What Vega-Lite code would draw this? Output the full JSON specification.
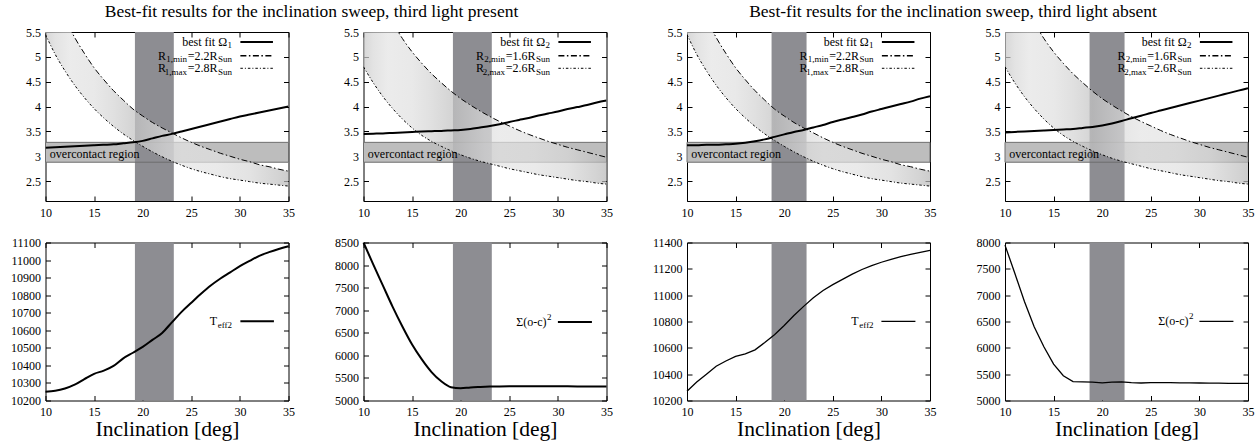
{
"$schema": "https://vega.github.io/schema/vega-lite/v6.json",
"background": "white",
"padding": {"left": 9.5, "top": 3, "right": 0, "bottom": 0},
"spacing": 37.5,
"config": {
  "font": "Liberation Serif",
  "view": {"stroke": "black", "strokeWidth": 1},
  "axis": {"domain": false, "grid": false, "tickSize": -5, "tickColor": "black", "tickWidth": 1, "labelFont": "Liberation Serif", "labelFontSize": 12, "labelColor": "black", "labelPadding": 10, "labelFlush": false, "labelOverlap": false, "titleFont": "Liberation Serif", "titleFontSize": 21.5, "titleFontWeight": "normal", "titleColor": "black", "titlePadding": 1},
  "axisX": {"labelPadding": 11},
  "title": {"font": "Liberation Serif", "fontSize": 17.5, "fontWeight": "normal", "color": "black", "offset": 5, "anchor": "middle"},
  "text": {"font": "Liberation Serif", "color": "black"},
  "area": {"color": {"gradient": "linear", "x1": 0, "y1": 0, "x2": 1, "y2": 0, "stops": [{"offset": 0, "color": "#c8c8c8"}, {"offset": 0.04, "color": "#d8d8d8"}, {"offset": 0.1, "color": "#e4e4e4"}, {"offset": 0.2, "color": "#e0e0e0"}, {"offset": 0.28, "color": "#d4d4d4"}, {"offset": 0.36, "color": "#c4c4c4"}, {"offset": 0.5, "color": "#dedede"}, {"offset": 0.56, "color": "#e4e4e4"}, {"offset": 0.7, "color": "#e2e2e2"}, {"offset": 0.84, "color": "#d8d8d8"}, {"offset": 0.96, "color": "#c2c2c2"}, {"offset": 1, "color": "#b8b8b8"}]}, "opacity": 0.72}
},
"datasets": {
  "oc": [{"lo": 2.88, "hi": 3.28, "label": "overcontact region"}],
  "bands": [{"p": "p1", "a": 19.2, "b": 23.2}, {"p": "p2", "a": 19.2, "b": 23.2}, {"p": "p3", "a": 18.7, "b": 22.3}, {"p": "p4", "a": 18.7, "b": 22.3}],
  "legline": [{"y": 5.3, "k": "om"}, {"y": 5.02, "k": "rmin"}, {"y": 4.77, "k": "rmax"}],
  "legA": [{"row": 1, "y": 5.3, "t": "best fit Ω", "s": "1"}, {"row": 2, "y": 5.02, "r": "R", "s1": "1,min", "t": "=2.2R", "s": "Sun"}, {"row": 3, "y": 4.77, "r": "R", "s1": "1,max", "t": "=2.8R", "s": "Sun"}],
  "legB": [{"row": 1, "y": 5.3, "t": "best fit Ω", "s": "2"}, {"row": 2, "y": 5.02, "r": "R", "s1": "2,min", "t": "=1.6R", "s": "Sun"}, {"row": 3, "y": 4.77, "r": "R", "s1": "2,max", "t": "=2.6R", "s": "Sun"}],
  "legbot": [{"p": "p1", "y": 10651, "t": "T", "s": "eff2"}, {"p": "p2", "y": 6739, "t": "Σ(o-c)", "s": "2"}, {"p": "p3", "y": 10801, "t": "T", "s": "eff2"}, {"p": "p4", "y": 6504, "t": "Σ(o-c)", "s": "2"}],
  "r1": [{"i":10,"rmin":6.76,"rmax":5.45},{"i":11,"rmin":6.22,"rmax":5.05},{"i":12,"rmin":5.77,"rmax":4.72},{"i":13,"rmin":5.39,"rmax":4.43},{"i":14,"rmin":5.07,"rmax":4.18},{"i":15,"rmin":4.78,"rmax":3.96},{"i":16,"rmin":4.54,"rmax":3.77},{"i":17,"rmin":4.32,"rmax":3.60},{"i":18,"rmin":4.13,"rmax":3.45},{"i":19,"rmin":3.95,"rmax":3.32},{"i":20,"rmin":3.81,"rmax":3.20},{"i":21,"rmin":3.68,"rmax":3.09},{"i":22,"rmin":3.57,"rmax":2.99},{"i":23,"rmin":3.47,"rmax":2.90},{"i":24,"rmin":3.37,"rmax":2.82},{"i":25,"rmin":3.28,"rmax":2.75},{"i":26,"rmin":3.20,"rmax":2.69},{"i":27,"rmin":3.13,"rmax":2.64},{"i":28,"rmin":3.06,"rmax":2.59},{"i":29,"rmin":3.00,"rmax":2.55},{"i":30,"rmin":2.94,"rmax":2.52},{"i":31,"rmin":2.89,"rmax":2.49},{"i":32,"rmin":2.83,"rmax":2.46},{"i":33,"rmin":2.79,"rmax":2.44},{"i":34,"rmin":2.74,"rmax":2.42},{"i":35,"rmin":2.70,"rmax":2.40}],
  "r2": [{"i":10,"rmin":7.0,"rmax":4.80},{"i":11,"rmin":6.48,"rmax":4.48},{"i":12,"rmin":6.05,"rmax":4.20},{"i":13,"rmin":5.69,"rmax":3.96},{"i":14,"rmin":5.37,"rmax":3.75},{"i":15,"rmin":5.10,"rmax":3.57},{"i":16,"rmin":4.87,"rmax":3.42},{"i":17,"rmin":4.66,"rmax":3.30},{"i":18,"rmin":4.48,"rmax":3.20},{"i":19,"rmin":4.31,"rmax":3.11},{"i":20,"rmin":4.16,"rmax":3.03},{"i":21,"rmin":4.03,"rmax":2.96},{"i":22,"rmin":3.91,"rmax":2.90},{"i":23,"rmin":3.80,"rmax":2.85},{"i":24,"rmin":3.70,"rmax":2.80},{"i":25,"rmin":3.61,"rmax":2.75},{"i":26,"rmin":3.52,"rmax":2.71},{"i":27,"rmin":3.44,"rmax":2.67},{"i":28,"rmin":3.37,"rmax":2.63},{"i":29,"rmin":3.30,"rmax":2.60},{"i":30,"rmin":3.24,"rmax":2.57},{"i":31,"rmin":3.18,"rmax":2.54},{"i":32,"rmin":3.13,"rmax":2.51},{"i":33,"rmin":3.08,"rmax":2.49},{"i":34,"rmin":3.03,"rmax":2.46},{"i":35,"rmin":2.98,"rmax":2.44}],
  "o1": [{"i":10,"om":3.17},{"i":11,"om":3.18},{"i":12,"om":3.19},{"i":13,"om":3.20},{"i":14,"om":3.21},{"i":15,"om":3.22},{"i":16,"om":3.23},{"i":17,"om":3.24},{"i":18,"om":3.26},{"i":19,"om":3.28},{"i":20,"om":3.31},{"i":21,"om":3.36},{"i":22,"om":3.41},{"i":23,"om":3.45},{"i":24,"om":3.50},{"i":25,"om":3.55},{"i":26,"om":3.60},{"i":27,"om":3.65},{"i":28,"om":3.70},{"i":29,"om":3.75},{"i":30,"om":3.80},{"i":31,"om":3.84},{"i":32,"om":3.88},{"i":33,"om":3.92},{"i":34,"om":3.96},{"i":35,"om":4.00}],
  "o2": [{"i":10,"om":3.45},{"i":11,"om":3.455},{"i":12,"om":3.46},{"i":13,"om":3.47},{"i":14,"om":3.48},{"i":15,"om":3.49},{"i":16,"om":3.50},{"i":17,"om":3.505},{"i":18,"om":3.51},{"i":19,"om":3.52},{"i":20,"om":3.53},{"i":21,"om":3.55},{"i":22,"om":3.58},{"i":23,"om":3.61},{"i":24,"om":3.645},{"i":25,"om":3.69},{"i":26,"om":3.73},{"i":27,"om":3.77},{"i":28,"om":3.82},{"i":29,"om":3.86},{"i":30,"om":3.90},{"i":31,"om":3.95},{"i":32,"om":3.99},{"i":33,"om":4.03},{"i":34,"om":4.08},{"i":35,"om":4.12}],
  "o3": [{"i":10,"om":3.22},{"i":11,"om":3.22},{"i":12,"om":3.23},{"i":13,"om":3.23},{"i":14,"om":3.24},{"i":15,"om":3.25},{"i":16,"om":3.27},{"i":17,"om":3.30},{"i":18,"om":3.34},{"i":19,"om":3.39},{"i":20,"om":3.44},{"i":21,"om":3.49},{"i":22,"om":3.53},{"i":23,"om":3.58},{"i":24,"om":3.63},{"i":25,"om":3.69},{"i":26,"om":3.74},{"i":27,"om":3.79},{"i":28,"om":3.84},{"i":29,"om":3.90},{"i":30,"om":3.95},{"i":31,"om":4.00},{"i":32,"om":4.05},{"i":33,"om":4.10},{"i":34,"om":4.16},{"i":35,"om":4.21}],
  "o4": [{"i":10,"om":3.48},{"i":11,"om":3.49},{"i":12,"om":3.50},{"i":13,"om":3.51},{"i":14,"om":3.52},{"i":15,"om":3.53},{"i":16,"om":3.54},{"i":17,"om":3.55},{"i":18,"om":3.57},{"i":19,"om":3.59},{"i":20,"om":3.62},{"i":21,"om":3.66},{"i":22,"om":3.71},{"i":23,"om":3.765},{"i":24,"om":3.815},{"i":25,"om":3.87},{"i":26,"om":3.92},{"i":27,"om":3.97},{"i":28,"om":4.02},{"i":29,"om":4.07},{"i":30,"om":4.12},{"i":31,"om":4.17},{"i":32,"om":4.22},{"i":33,"om":4.27},{"i":34,"om":4.32},{"i":35,"om":4.37}],
  "b1": [{"i":10,"v":10250},{"i":11,"v":10255},{"i":12,"v":10268},{"i":13,"v":10290},{"i":14,"v":10322},{"i":15,"v":10352},{"i":16,"v":10370},{"i":17,"v":10397},{"i":18,"v":10440},{"i":19,"v":10472},{"i":20,"v":10505},{"i":21,"v":10545},{"i":22,"v":10585},{"i":23,"v":10645},{"i":24,"v":10705},{"i":25,"v":10757},{"i":26,"v":10808},{"i":27,"v":10855},{"i":28,"v":10895},{"i":29,"v":10930},{"i":30,"v":10965},{"i":31,"v":10995},{"i":32,"v":11024},{"i":33,"v":11045},{"i":34,"v":11063},{"i":35,"v":11079}],
  "b2": [{"i":10,"v":8500},{"i":11,"v":8015},{"i":12,"v":7545},{"i":13,"v":7075},{"i":14,"v":6640},{"i":15,"v":6240},{"i":16,"v":5910},{"i":17,"v":5630},{"i":18,"v":5425},{"i":19,"v":5295},{"i":20,"v":5272},{"i":21,"v":5290},{"i":22,"v":5300},{"i":23,"v":5308},{"i":24,"v":5312},{"i":25,"v":5315},{"i":26,"v":5316},{"i":27,"v":5316},{"i":28,"v":5315},{"i":29,"v":5315},{"i":30,"v":5314},{"i":31,"v":5313},{"i":32,"v":5312},{"i":33,"v":5311},{"i":34,"v":5310},{"i":35,"v":5310}],
  "b3": [{"i":10,"v":10270},{"i":11,"v":10340},{"i":12,"v":10400},{"i":13,"v":10460},{"i":14,"v":10500},{"i":15,"v":10535},{"i":16,"v":10555},{"i":17,"v":10585},{"i":18,"v":10640},{"i":19,"v":10700},{"i":20,"v":10770},{"i":21,"v":10845},{"i":22,"v":10915},{"i":23,"v":10980},{"i":24,"v":11035},{"i":25,"v":11080},{"i":26,"v":11120},{"i":27,"v":11160},{"i":28,"v":11195},{"i":29,"v":11225},{"i":30,"v":11250},{"i":31,"v":11272},{"i":32,"v":11292},{"i":33,"v":11310},{"i":34,"v":11325},{"i":35,"v":11340}],
  "b4": [{"i":10,"v":7950},{"i":11,"v":7420},{"i":12,"v":6880},{"i":13,"v":6400},{"i":14,"v":6020},{"i":15,"v":5690},{"i":16,"v":5470},{"i":17,"v":5360},{"i":18,"v":5352},{"i":19,"v":5348},{"i":20,"v":5335},{"i":21,"v":5350},{"i":22,"v":5355},{"i":23,"v":5340},{"i":24,"v":5332},{"i":25,"v":5338},{"i":26,"v":5340},{"i":27,"v":5338},{"i":28,"v":5336},{"i":29,"v":5334},{"i":30,"v":5332},{"i":31,"v":5330},{"i":32,"v":5328},{"i":33,"v":5327},{"i":34,"v":5326},{"i":35,"v":5325}]
},
"hconcat": [
 {"title": "Best-fit results for the inclination sweep, third light present", "spacing": 38, "hconcat": [
  {"spacing": 16.5, "vconcat": [
   {"width": 243, "height": 169, "layer": [
    {"data": {"name": "oc"}, "mark": {"type": "rect", "color": "#bdbdbd"}, "encoding": {"y": {"field": "lo", "type": "quantitative", "scale": {"domain": [2.1, 5.5], "nice": false, "zero": false}, "axis": null}, "y2": {"field": "hi"}}},
    {"data": {"name": "bands"}, "transform": [{"filter": "datum.p == 'p1'"}], "mark": {"type": "rect", "color": "#8d8d92"}, "encoding": {"x": {"field": "a", "type": "quantitative", "scale": {"domain": [10, 35], "nice": false, "zero": false}, "axis": null}, "x2": {"field": "b"}}},
    {"data": {"name": "oc"}, "mark": {"type": "rect", "filled": false, "stroke": "#6e6e6e", "strokeWidth": 1}, "encoding": {"y": {"field": "lo", "type": "quantitative", "axis": null}, "y2": {"field": "hi"}}},
    {"data": {"name": "r1"}, "mark": {"type": "area", "interpolate": "monotone", "clip": true}, "encoding": {"x": {"field": "i", "type": "quantitative", "axis": null}, "y": {"field": "rmax", "type": "quantitative", "axis": null}, "y2": {"field": "rmin"}}},
    {"data": {"name": "oc"}, "mark": {"type": "text", "align": "left", "baseline": "middle", "fontSize": 12}, "encoding": {"x": {"datum": 10.45, "type": "quantitative", "axis": null}, "y": {"datum": 3.05, "type": "quantitative", "axis": null}, "text": {"field": "label"}}},
    {"data": {"name": "r1"}, "mark": {"type": "line", "color": "black", "strokeWidth": 1, "strokeDash": [6, 2.5, 1.5, 2.5], "interpolate": "monotone", "clip": true}, "encoding": {"x": {"field": "i", "type": "quantitative", "axis": null}, "y": {"field": "rmin", "type": "quantitative", "axis": null}}},
    {"data": {"name": "r1"}, "mark": {"type": "line", "color": "black", "strokeWidth": 1, "strokeDash": [2.5, 2, 1, 2], "interpolate": "monotone", "clip": true}, "encoding": {"x": {"field": "i", "type": "quantitative", "axis": null}, "y": {"field": "rmax", "type": "quantitative", "axis": null}}},
    {"data": {"name": "o1"}, "mark": {"type": "line", "color": "black", "strokeWidth": 2, "interpolate": "monotone", "clip": true}, "encoding": {"x": {"field": "i", "type": "quantitative", "axis": {"values": [10, 15, 20, 25, 30, 35], "title": null}}, "y": {"field": "om", "type": "quantitative", "axis": {"values": [2.5, 3, 3.5, 4, 4.5, 5, 5.5], "format": "~g", "title": null}}}},
    {"data": {"name": "legline"}, "mark": {"type": "rule", "color": "black"}, "encoding": {"x": {"datum": 30.05, "type": "quantitative", "axis": null}, "x2": {"datum": 33.4}, "y": {"field": "y", "type": "quantitative", "axis": null}, "strokeDash": {"field": "k", "type": "nominal", "scale": {"domain": ["om", "rmin", "rmax"], "range": [[1, 0], [6, 2.5, 1.5, 2.5], [2.5, 2, 1, 2]]}, "legend": null}, "strokeWidth": {"field": "k", "type": "nominal", "scale": {"domain": ["om", "rmin", "rmax"], "range": [2, 1, 1]}, "legend": null}}},
    {"data": {"name": "legA"}, "transform": [{"filter": "datum.row == 1"}], "mark": {"type": "text", "align": "right", "baseline": "middle", "fontSize": 12, "dx": -5}, "encoding": {"x": {"datum": 29.2, "type": "quantitative", "axis": null}, "y": {"field": "y", "type": "quantitative", "axis": null}, "text": {"field": "t"}}},
    {"data": {"name": "legA"}, "transform": [{"filter": "datum.row > 1"}], "mark": {"type": "text", "align": "right", "baseline": "middle", "fontSize": 12, "dx": -14.5}, "encoding": {"x": {"datum": 29.2, "type": "quantitative", "axis": null}, "y": {"field": "y", "type": "quantitative", "axis": null}, "text": {"field": "t"}}},
    {"data": {"name": "legA"}, "mark": {"type": "text", "align": "right", "baseline": "middle", "fontSize": 9, "dy": 3.5}, "encoding": {"x": {"datum": 29.2, "type": "quantitative", "axis": null}, "y": {"field": "y", "type": "quantitative", "axis": null}, "text": {"field": "s"}}},
    {"data": {"name": "legA"}, "transform": [{"filter": "datum.row > 1"}], "mark": {"type": "text", "align": "right", "baseline": "middle", "fontSize": 9, "dx": -45, "dy": 3.5}, "encoding": {"x": {"datum": 29.2, "type": "quantitative", "axis": null}, "y": {"field": "y", "type": "quantitative", "axis": null}, "text": {"field": "s1"}}},
    {"data": {"name": "legA"}, "transform": [{"filter": "datum.row > 1"}], "mark": {"type": "text", "align": "right", "baseline": "middle", "fontSize": 12, "dx": -66}, "encoding": {"x": {"datum": 29.2, "type": "quantitative", "axis": null}, "y": {"field": "y", "type": "quantitative", "axis": null}, "text": {"field": "r"}}},
    {"data": {"name": "o1"}, "mark": {"type": "point", "opacity": 0}, "encoding": {"x": {"field": "i", "type": "quantitative", "axis": {"orient": "top", "labels": false, "title": null, "values": [10, 15, 20, 25, 30, 35]}}, "y": {"field": "om", "type": "quantitative", "axis": {"orient": "right", "labels": false, "title": null, "values": [2.5, 3, 3.5, 4, 4.5, 5, 5.5]}}}}
   ], "resolve": {"axis": {"x": "independent", "y": "independent"}}},
   {"width": 243, "height": 158, "layer": [
    {"data": {"name": "bands"}, "transform": [{"filter": "datum.p == 'p1'"}], "mark": {"type": "rect", "color": "#8d8d92"}, "encoding": {"x": {"field": "a", "type": "quantitative", "scale": {"domain": [10, 35], "nice": false, "zero": false}, "axis": null}, "x2": {"field": "b"}}},
    {"data": {"name": "b1"}, "mark": {"type": "line", "color": "black", "strokeWidth": 2, "interpolate": "monotone"}, "encoding": {"x": {"field": "i", "type": "quantitative", "axis": {"values": [10, 15, 20, 25, 30, 35], "title": "Inclination [deg]"}}, "y": {"field": "v", "type": "quantitative", "scale": {"domain": [10200, 11100], "nice": false, "zero": false}, "axis": {"values": [10200, 10300, 10400, 10500, 10600, 10700, 10800, 10900, 11000, 11100], "format": "d", "title": null}}}},
    {"data": {"name": "legbot"}, "transform": [{"filter": "datum.p == 'p1'"}], "mark": {"type": "rule", "color": "black", "strokeWidth": 2}, "encoding": {"x": {"datum": 30.05, "type": "quantitative", "axis": null}, "x2": {"datum": 33.5}, "y": {"field": "y", "type": "quantitative", "axis": null}}},
    {"data": {"name": "legbot"}, "transform": [{"filter": "datum.p == 'p1'"}], "mark": {"type": "text", "align": "right", "baseline": "middle", "fontSize": 12, "dx": -15}, "encoding": {"x": {"datum": 29.2, "type": "quantitative", "axis": null}, "y": {"field": "y", "type": "quantitative", "axis": null}, "text": {"field": "t"}}},
    {"data": {"name": "legbot"}, "transform": [{"filter": "datum.p == 'p1'"}], "mark": {"type": "text", "align": "right", "baseline": "middle", "fontSize": 9, "dy": 3.5}, "encoding": {"x": {"datum": 29.2, "type": "quantitative", "axis": null}, "y": {"field": "y", "type": "quantitative", "axis": null}, "text": {"field": "s"}}},
    {"data": {"name": "b1"}, "mark": {"type": "point", "opacity": 0}, "encoding": {"x": {"field": "i", "type": "quantitative", "axis": {"orient": "top", "labels": false, "title": null, "values": [10, 15, 20, 25, 30, 35]}}, "y": {"field": "v", "type": "quantitative", "axis": {"orient": "right", "labels": false, "title": null, "values": [10200, 10300, 10400, 10500, 10600, 10700, 10800, 10900, 11000, 11100]}}}}
   ], "resolve": {"axis": {"x": "independent", "y": "independent"}}}
  ]},
  {"spacing": 16.5, "vconcat": [
   {"width": 243, "height": 169, "layer": [
    {"data": {"name": "oc"}, "mark": {"type": "rect", "color": "#bdbdbd"}, "encoding": {"y": {"field": "lo", "type": "quantitative", "scale": {"domain": [2.1, 5.5], "nice": false, "zero": false}, "axis": null}, "y2": {"field": "hi"}}},
    {"data": {"name": "bands"}, "transform": [{"filter": "datum.p == 'p2'"}], "mark": {"type": "rect", "color": "#8d8d92"}, "encoding": {"x": {"field": "a", "type": "quantitative", "scale": {"domain": [10, 35], "nice": false, "zero": false}, "axis": null}, "x2": {"field": "b"}}},
    {"data": {"name": "oc"}, "mark": {"type": "rect", "filled": false, "stroke": "#6e6e6e", "strokeWidth": 1}, "encoding": {"y": {"field": "lo", "type": "quantitative", "axis": null}, "y2": {"field": "hi"}}},
    {"data": {"name": "r2"}, "mark": {"type": "area", "interpolate": "monotone", "clip": true}, "encoding": {"x": {"field": "i", "type": "quantitative", "axis": null}, "y": {"field": "rmax", "type": "quantitative", "axis": null}, "y2": {"field": "rmin"}}},
    {"data": {"name": "oc"}, "mark": {"type": "text", "align": "left", "baseline": "middle", "fontSize": 12}, "encoding": {"x": {"datum": 10.45, "type": "quantitative", "axis": null}, "y": {"datum": 3.05, "type": "quantitative", "axis": null}, "text": {"field": "label"}}},
    {"data": {"name": "r2"}, "mark": {"type": "line", "color": "black", "strokeWidth": 1, "strokeDash": [6, 2.5, 1.5, 2.5], "interpolate": "monotone", "clip": true}, "encoding": {"x": {"field": "i", "type": "quantitative", "axis": null}, "y": {"field": "rmin", "type": "quantitative", "axis": null}}},
    {"data": {"name": "r2"}, "mark": {"type": "line", "color": "black", "strokeWidth": 1, "strokeDash": [2.5, 2, 1, 2], "interpolate": "monotone", "clip": true}, "encoding": {"x": {"field": "i", "type": "quantitative", "axis": null}, "y": {"field": "rmax", "type": "quantitative", "axis": null}}},
    {"data": {"name": "o2"}, "mark": {"type": "line", "color": "black", "strokeWidth": 2, "interpolate": "monotone", "clip": true}, "encoding": {"x": {"field": "i", "type": "quantitative", "axis": {"values": [10, 15, 20, 25, 30, 35], "title": null}}, "y": {"field": "om", "type": "quantitative", "axis": {"values": [2.5, 3, 3.5, 4, 4.5, 5, 5.5], "format": "~g", "title": null}}}},
    {"data": {"name": "legline"}, "mark": {"type": "rule", "color": "black"}, "encoding": {"x": {"datum": 30.05, "type": "quantitative", "axis": null}, "x2": {"datum": 33.4}, "y": {"field": "y", "type": "quantitative", "axis": null}, "strokeDash": {"field": "k", "type": "nominal", "scale": {"domain": ["om", "rmin", "rmax"], "range": [[1, 0], [6, 2.5, 1.5, 2.5], [2.5, 2, 1, 2]]}, "legend": null}, "strokeWidth": {"field": "k", "type": "nominal", "scale": {"domain": ["om", "rmin", "rmax"], "range": [2, 1, 1]}, "legend": null}}},
    {"data": {"name": "legB"}, "transform": [{"filter": "datum.row == 1"}], "mark": {"type": "text", "align": "right", "baseline": "middle", "fontSize": 12, "dx": -5}, "encoding": {"x": {"datum": 29.2, "type": "quantitative", "axis": null}, "y": {"field": "y", "type": "quantitative", "axis": null}, "text": {"field": "t"}}},
    {"data": {"name": "legB"}, "transform": [{"filter": "datum.row > 1"}], "mark": {"type": "text", "align": "right", "baseline": "middle", "fontSize": 12, "dx": -14.5}, "encoding": {"x": {"datum": 29.2, "type": "quantitative", "axis": null}, "y": {"field": "y", "type": "quantitative", "axis": null}, "text": {"field": "t"}}},
    {"data": {"name": "legB"}, "mark": {"type": "text", "align": "right", "baseline": "middle", "fontSize": 9, "dy": 3.5}, "encoding": {"x": {"datum": 29.2, "type": "quantitative", "axis": null}, "y": {"field": "y", "type": "quantitative", "axis": null}, "text": {"field": "s"}}},
    {"data": {"name": "legB"}, "transform": [{"filter": "datum.row > 1"}], "mark": {"type": "text", "align": "right", "baseline": "middle", "fontSize": 9, "dx": -45, "dy": 3.5}, "encoding": {"x": {"datum": 29.2, "type": "quantitative", "axis": null}, "y": {"field": "y", "type": "quantitative", "axis": null}, "text": {"field": "s1"}}},
    {"data": {"name": "legB"}, "transform": [{"filter": "datum.row > 1"}], "mark": {"type": "text", "align": "right", "baseline": "middle", "fontSize": 12, "dx": -66}, "encoding": {"x": {"datum": 29.2, "type": "quantitative", "axis": null}, "y": {"field": "y", "type": "quantitative", "axis": null}, "text": {"field": "r"}}},
    {"data": {"name": "o2"}, "mark": {"type": "point", "opacity": 0}, "encoding": {"x": {"field": "i", "type": "quantitative", "axis": {"orient": "top", "labels": false, "title": null, "values": [10, 15, 20, 25, 30, 35]}}, "y": {"field": "om", "type": "quantitative", "axis": {"orient": "right", "labels": false, "title": null, "values": [2.5, 3, 3.5, 4, 4.5, 5, 5.5]}}}}
   ], "resolve": {"axis": {"x": "independent", "y": "independent"}}},
   {"width": 243, "height": 158, "layer": [
    {"data": {"name": "bands"}, "transform": [{"filter": "datum.p == 'p2'"}], "mark": {"type": "rect", "color": "#8d8d92"}, "encoding": {"x": {"field": "a", "type": "quantitative", "scale": {"domain": [10, 35], "nice": false, "zero": false}, "axis": null}, "x2": {"field": "b"}}},
    {"data": {"name": "b2"}, "mark": {"type": "line", "color": "black", "strokeWidth": 2, "interpolate": "monotone"}, "encoding": {"x": {"field": "i", "type": "quantitative", "axis": {"values": [10, 15, 20, 25, 30, 35], "title": "Inclination [deg]"}}, "y": {"field": "v", "type": "quantitative", "scale": {"domain": [5000, 8500], "nice": false, "zero": false}, "axis": {"values": [5000, 5500, 6000, 6500, 7000, 7500, 8000, 8500], "format": "d", "title": null}}}},
    {"data": {"name": "legbot"}, "transform": [{"filter": "datum.p == 'p2'"}], "mark": {"type": "rule", "color": "black", "strokeWidth": 2}, "encoding": {"x": {"datum": 30.0, "type": "quantitative", "axis": null}, "x2": {"datum": 33.5}, "y": {"field": "y", "type": "quantitative", "axis": null}}},
    {"data": {"name": "legbot"}, "transform": [{"filter": "datum.p == 'p2'"}], "mark": {"type": "text", "align": "right", "baseline": "middle", "fontSize": 12, "dx": -5}, "encoding": {"x": {"datum": 29.35, "type": "quantitative", "axis": null}, "y": {"field": "y", "type": "quantitative", "axis": null}, "text": {"field": "t"}}},
    {"data": {"name": "legbot"}, "transform": [{"filter": "datum.p == 'p2'"}], "mark": {"type": "text", "align": "right", "baseline": "middle", "fontSize": 9, "dy": -5}, "encoding": {"x": {"datum": 29.35, "type": "quantitative", "axis": null}, "y": {"field": "y", "type": "quantitative", "axis": null}, "text": {"field": "s"}}},
    {"data": {"name": "b2"}, "mark": {"type": "point", "opacity": 0}, "encoding": {"x": {"field": "i", "type": "quantitative", "axis": {"orient": "top", "labels": false, "title": null, "values": [10, 15, 20, 25, 30, 35]}}, "y": {"field": "v", "type": "quantitative", "axis": {"orient": "right", "labels": false, "title": null, "values": [5000, 5500, 6000, 6500, 7000, 7500, 8000, 8500]}}}}
   ], "resolve": {"axis": {"x": "independent", "y": "independent"}}}
  ]}
 ]},
 {"title": "Best-fit results for the inclination sweep, third light absent", "spacing": 38, "hconcat": [
  {"spacing": 16.5, "vconcat": [
   {"width": 243, "height": 169, "layer": [
    {"data": {"name": "oc"}, "mark": {"type": "rect", "color": "#bdbdbd"}, "encoding": {"y": {"field": "lo", "type": "quantitative", "scale": {"domain": [2.1, 5.5], "nice": false, "zero": false}, "axis": null}, "y2": {"field": "hi"}}},
    {"data": {"name": "bands"}, "transform": [{"filter": "datum.p == 'p3'"}], "mark": {"type": "rect", "color": "#8d8d92"}, "encoding": {"x": {"field": "a", "type": "quantitative", "scale": {"domain": [10, 35], "nice": false, "zero": false}, "axis": null}, "x2": {"field": "b"}}},
    {"data": {"name": "oc"}, "mark": {"type": "rect", "filled": false, "stroke": "#6e6e6e", "strokeWidth": 1}, "encoding": {"y": {"field": "lo", "type": "quantitative", "axis": null}, "y2": {"field": "hi"}}},
    {"data": {"name": "r1"}, "mark": {"type": "area", "interpolate": "monotone", "clip": true}, "encoding": {"x": {"field": "i", "type": "quantitative", "axis": null}, "y": {"field": "rmax", "type": "quantitative", "axis": null}, "y2": {"field": "rmin"}}},
    {"data": {"name": "oc"}, "mark": {"type": "text", "align": "left", "baseline": "middle", "fontSize": 12}, "encoding": {"x": {"datum": 10.45, "type": "quantitative", "axis": null}, "y": {"datum": 3.05, "type": "quantitative", "axis": null}, "text": {"field": "label"}}},
    {"data": {"name": "r1"}, "mark": {"type": "line", "color": "black", "strokeWidth": 1, "strokeDash": [6, 2.5, 1.5, 2.5], "interpolate": "monotone", "clip": true}, "encoding": {"x": {"field": "i", "type": "quantitative", "axis": null}, "y": {"field": "rmin", "type": "quantitative", "axis": null}}},
    {"data": {"name": "r1"}, "mark": {"type": "line", "color": "black", "strokeWidth": 1, "strokeDash": [2.5, 2, 1, 2], "interpolate": "monotone", "clip": true}, "encoding": {"x": {"field": "i", "type": "quantitative", "axis": null}, "y": {"field": "rmax", "type": "quantitative", "axis": null}}},
    {"data": {"name": "o3"}, "mark": {"type": "line", "color": "black", "strokeWidth": 2, "interpolate": "monotone", "clip": true}, "encoding": {"x": {"field": "i", "type": "quantitative", "axis": {"values": [10, 15, 20, 25, 30, 35], "title": null}}, "y": {"field": "om", "type": "quantitative", "axis": {"values": [2.5, 3, 3.5, 4, 4.5, 5, 5.5], "format": "~g", "title": null}}}},
    {"data": {"name": "legline"}, "mark": {"type": "rule", "color": "black"}, "encoding": {"x": {"datum": 30.05, "type": "quantitative", "axis": null}, "x2": {"datum": 33.4}, "y": {"field": "y", "type": "quantitative", "axis": null}, "strokeDash": {"field": "k", "type": "nominal", "scale": {"domain": ["om", "rmin", "rmax"], "range": [[1, 0], [6, 2.5, 1.5, 2.5], [2.5, 2, 1, 2]]}, "legend": null}, "strokeWidth": {"field": "k", "type": "nominal", "scale": {"domain": ["om", "rmin", "rmax"], "range": [2, 1, 1]}, "legend": null}}},
    {"data": {"name": "legA"}, "transform": [{"filter": "datum.row == 1"}], "mark": {"type": "text", "align": "right", "baseline": "middle", "fontSize": 12, "dx": -5}, "encoding": {"x": {"datum": 29.2, "type": "quantitative", "axis": null}, "y": {"field": "y", "type": "quantitative", "axis": null}, "text": {"field": "t"}}},
    {"data": {"name": "legA"}, "transform": [{"filter": "datum.row > 1"}], "mark": {"type": "text", "align": "right", "baseline": "middle", "fontSize": 12, "dx": -14.5}, "encoding": {"x": {"datum": 29.2, "type": "quantitative", "axis": null}, "y": {"field": "y", "type": "quantitative", "axis": null}, "text": {"field": "t"}}},
    {"data": {"name": "legA"}, "mark": {"type": "text", "align": "right", "baseline": "middle", "fontSize": 9, "dy": 3.5}, "encoding": {"x": {"datum": 29.2, "type": "quantitative", "axis": null}, "y": {"field": "y", "type": "quantitative", "axis": null}, "text": {"field": "s"}}},
    {"data": {"name": "legA"}, "transform": [{"filter": "datum.row > 1"}], "mark": {"type": "text", "align": "right", "baseline": "middle", "fontSize": 9, "dx": -45, "dy": 3.5}, "encoding": {"x": {"datum": 29.2, "type": "quantitative", "axis": null}, "y": {"field": "y", "type": "quantitative", "axis": null}, "text": {"field": "s1"}}},
    {"data": {"name": "legA"}, "transform": [{"filter": "datum.row > 1"}], "mark": {"type": "text", "align": "right", "baseline": "middle", "fontSize": 12, "dx": -66}, "encoding": {"x": {"datum": 29.2, "type": "quantitative", "axis": null}, "y": {"field": "y", "type": "quantitative", "axis": null}, "text": {"field": "r"}}},
    {"data": {"name": "o3"}, "mark": {"type": "point", "opacity": 0}, "encoding": {"x": {"field": "i", "type": "quantitative", "axis": {"orient": "top", "labels": false, "title": null, "values": [10, 15, 20, 25, 30, 35]}}, "y": {"field": "om", "type": "quantitative", "axis": {"orient": "right", "labels": false, "title": null, "values": [2.5, 3, 3.5, 4, 4.5, 5, 5.5]}}}}
   ], "resolve": {"axis": {"x": "independent", "y": "independent"}}},
   {"width": 243, "height": 158, "layer": [
    {"data": {"name": "bands"}, "transform": [{"filter": "datum.p == 'p3'"}], "mark": {"type": "rect", "color": "#8d8d92"}, "encoding": {"x": {"field": "a", "type": "quantitative", "scale": {"domain": [10, 35], "nice": false, "zero": false}, "axis": null}, "x2": {"field": "b"}}},
    {"data": {"name": "b3"}, "mark": {"type": "line", "color": "black", "strokeWidth": 1.3}, "encoding": {"x": {"field": "i", "type": "quantitative", "axis": {"values": [10, 15, 20, 25, 30, 35], "title": "Inclination [deg]"}}, "y": {"field": "v", "type": "quantitative", "scale": {"domain": [10200, 11400], "nice": false, "zero": false}, "axis": {"values": [10200, 10400, 10600, 10800, 11000, 11200, 11400], "format": "d", "title": null}}}},
    {"data": {"name": "legbot"}, "transform": [{"filter": "datum.p == 'p3'"}], "mark": {"type": "rule", "color": "black", "strokeWidth": 1.3}, "encoding": {"x": {"datum": 30.0, "type": "quantitative", "axis": null}, "x2": {"datum": 33.5}, "y": {"field": "y", "type": "quantitative", "axis": null}}},
    {"data": {"name": "legbot"}, "transform": [{"filter": "datum.p == 'p3'"}], "mark": {"type": "text", "align": "right", "baseline": "middle", "fontSize": 12, "dx": -15}, "encoding": {"x": {"datum": 29.2, "type": "quantitative", "axis": null}, "y": {"field": "y", "type": "quantitative", "axis": null}, "text": {"field": "t"}}},
    {"data": {"name": "legbot"}, "transform": [{"filter": "datum.p == 'p3'"}], "mark": {"type": "text", "align": "right", "baseline": "middle", "fontSize": 9, "dy": 3.5}, "encoding": {"x": {"datum": 29.2, "type": "quantitative", "axis": null}, "y": {"field": "y", "type": "quantitative", "axis": null}, "text": {"field": "s"}}},
    {"data": {"name": "b3"}, "mark": {"type": "point", "opacity": 0}, "encoding": {"x": {"field": "i", "type": "quantitative", "axis": {"orient": "top", "labels": false, "title": null, "values": [10, 15, 20, 25, 30, 35]}}, "y": {"field": "v", "type": "quantitative", "axis": {"orient": "right", "labels": false, "title": null, "values": [10200, 10400, 10600, 10800, 11000, 11200, 11400]}}}}
   ], "resolve": {"axis": {"x": "independent", "y": "independent"}}}
  ]},
  {"spacing": 16.5, "vconcat": [
   {"width": 243, "height": 169, "layer": [
    {"data": {"name": "oc"}, "mark": {"type": "rect", "color": "#bdbdbd"}, "encoding": {"y": {"field": "lo", "type": "quantitative", "scale": {"domain": [2.1, 5.5], "nice": false, "zero": false}, "axis": null}, "y2": {"field": "hi"}}},
    {"data": {"name": "bands"}, "transform": [{"filter": "datum.p == 'p4'"}], "mark": {"type": "rect", "color": "#8d8d92"}, "encoding": {"x": {"field": "a", "type": "quantitative", "scale": {"domain": [10, 35], "nice": false, "zero": false}, "axis": null}, "x2": {"field": "b"}}},
    {"data": {"name": "oc"}, "mark": {"type": "rect", "filled": false, "stroke": "#6e6e6e", "strokeWidth": 1}, "encoding": {"y": {"field": "lo", "type": "quantitative", "axis": null}, "y2": {"field": "hi"}}},
    {"data": {"name": "r2"}, "mark": {"type": "area", "interpolate": "monotone", "clip": true}, "encoding": {"x": {"field": "i", "type": "quantitative", "axis": null}, "y": {"field": "rmax", "type": "quantitative", "axis": null}, "y2": {"field": "rmin"}}},
    {"data": {"name": "oc"}, "mark": {"type": "text", "align": "left", "baseline": "middle", "fontSize": 12}, "encoding": {"x": {"datum": 10.45, "type": "quantitative", "axis": null}, "y": {"datum": 3.05, "type": "quantitative", "axis": null}, "text": {"field": "label"}}},
    {"data": {"name": "r2"}, "mark": {"type": "line", "color": "black", "strokeWidth": 1, "strokeDash": [6, 2.5, 1.5, 2.5], "interpolate": "monotone", "clip": true}, "encoding": {"x": {"field": "i", "type": "quantitative", "axis": null}, "y": {"field": "rmin", "type": "quantitative", "axis": null}}},
    {"data": {"name": "r2"}, "mark": {"type": "line", "color": "black", "strokeWidth": 1, "strokeDash": [2.5, 2, 1, 2], "interpolate": "monotone", "clip": true}, "encoding": {"x": {"field": "i", "type": "quantitative", "axis": null}, "y": {"field": "rmax", "type": "quantitative", "axis": null}}},
    {"data": {"name": "o4"}, "mark": {"type": "line", "color": "black", "strokeWidth": 2, "interpolate": "monotone", "clip": true}, "encoding": {"x": {"field": "i", "type": "quantitative", "axis": {"values": [10, 15, 20, 25, 30, 35], "title": null}}, "y": {"field": "om", "type": "quantitative", "axis": {"values": [2.5, 3, 3.5, 4, 4.5, 5, 5.5], "format": "~g", "title": null}}}},
    {"data": {"name": "legline"}, "mark": {"type": "rule", "color": "black"}, "encoding": {"x": {"datum": 30.05, "type": "quantitative", "axis": null}, "x2": {"datum": 33.4}, "y": {"field": "y", "type": "quantitative", "axis": null}, "strokeDash": {"field": "k", "type": "nominal", "scale": {"domain": ["om", "rmin", "rmax"], "range": [[1, 0], [6, 2.5, 1.5, 2.5], [2.5, 2, 1, 2]]}, "legend": null}, "strokeWidth": {"field": "k", "type": "nominal", "scale": {"domain": ["om", "rmin", "rmax"], "range": [2, 1, 1]}, "legend": null}}},
    {"data": {"name": "legB"}, "transform": [{"filter": "datum.row == 1"}], "mark": {"type": "text", "align": "right", "baseline": "middle", "fontSize": 12, "dx": -5}, "encoding": {"x": {"datum": 29.2, "type": "quantitative", "axis": null}, "y": {"field": "y", "type": "quantitative", "axis": null}, "text": {"field": "t"}}},
    {"data": {"name": "legB"}, "transform": [{"filter": "datum.row > 1"}], "mark": {"type": "text", "align": "right", "baseline": "middle", "fontSize": 12, "dx": -14.5}, "encoding": {"x": {"datum": 29.2, "type": "quantitative", "axis": null}, "y": {"field": "y", "type": "quantitative", "axis": null}, "text": {"field": "t"}}},
    {"data": {"name": "legB"}, "mark": {"type": "text", "align": "right", "baseline": "middle", "fontSize": 9, "dy": 3.5}, "encoding": {"x": {"datum": 29.2, "type": "quantitative", "axis": null}, "y": {"field": "y", "type": "quantitative", "axis": null}, "text": {"field": "s"}}},
    {"data": {"name": "legB"}, "transform": [{"filter": "datum.row > 1"}], "mark": {"type": "text", "align": "right", "baseline": "middle", "fontSize": 9, "dx": -45, "dy": 3.5}, "encoding": {"x": {"datum": 29.2, "type": "quantitative", "axis": null}, "y": {"field": "y", "type": "quantitative", "axis": null}, "text": {"field": "s1"}}},
    {"data": {"name": "legB"}, "transform": [{"filter": "datum.row > 1"}], "mark": {"type": "text", "align": "right", "baseline": "middle", "fontSize": 12, "dx": -66}, "encoding": {"x": {"datum": 29.2, "type": "quantitative", "axis": null}, "y": {"field": "y", "type": "quantitative", "axis": null}, "text": {"field": "r"}}},
    {"data": {"name": "o4"}, "mark": {"type": "point", "opacity": 0}, "encoding": {"x": {"field": "i", "type": "quantitative", "axis": {"orient": "top", "labels": false, "title": null, "values": [10, 15, 20, 25, 30, 35]}}, "y": {"field": "om", "type": "quantitative", "axis": {"orient": "right", "labels": false, "title": null, "values": [2.5, 3, 3.5, 4, 4.5, 5, 5.5]}}}}
   ], "resolve": {"axis": {"x": "independent", "y": "independent"}}},
   {"width": 243, "height": 158, "layer": [
    {"data": {"name": "bands"}, "transform": [{"filter": "datum.p == 'p4'"}], "mark": {"type": "rect", "color": "#8d8d92"}, "encoding": {"x": {"field": "a", "type": "quantitative", "scale": {"domain": [10, 35], "nice": false, "zero": false}, "axis": null}, "x2": {"field": "b"}}},
    {"data": {"name": "b4"}, "mark": {"type": "line", "color": "black", "strokeWidth": 1.3}, "encoding": {"x": {"field": "i", "type": "quantitative", "axis": {"values": [10, 15, 20, 25, 30, 35], "title": "Inclination [deg]"}}, "y": {"field": "v", "type": "quantitative", "scale": {"domain": [5000, 8000], "nice": false, "zero": false}, "axis": {"values": [5000, 5500, 6000, 6500, 7000, 7500, 8000], "format": "d", "title": null}}}},
    {"data": {"name": "legbot"}, "transform": [{"filter": "datum.p == 'p4'"}], "mark": {"type": "rule", "color": "black", "strokeWidth": 1.3}, "encoding": {"x": {"datum": 30.0, "type": "quantitative", "axis": null}, "x2": {"datum": 33.5}, "y": {"field": "y", "type": "quantitative", "axis": null}}},
    {"data": {"name": "legbot"}, "transform": [{"filter": "datum.p == 'p4'"}], "mark": {"type": "text", "align": "right", "baseline": "middle", "fontSize": 12, "dx": -5}, "encoding": {"x": {"datum": 29.4, "type": "quantitative", "axis": null}, "y": {"field": "y", "type": "quantitative", "axis": null}, "text": {"field": "t"}}},
    {"data": {"name": "legbot"}, "transform": [{"filter": "datum.p == 'p4'"}], "mark": {"type": "text", "align": "right", "baseline": "middle", "fontSize": 9, "dy": -5}, "encoding": {"x": {"datum": 29.4, "type": "quantitative", "axis": null}, "y": {"field": "y", "type": "quantitative", "axis": null}, "text": {"field": "s"}}},
    {"data": {"name": "b4"}, "mark": {"type": "point", "opacity": 0}, "encoding": {"x": {"field": "i", "type": "quantitative", "axis": {"orient": "top", "labels": false, "title": null, "values": [10, 15, 20, 25, 30, 35]}}, "y": {"field": "v", "type": "quantitative", "axis": {"orient": "right", "labels": false, "title": null, "values": [5000, 5500, 6000, 6500, 7000, 7500, 8000]}}}}
   ], "resolve": {"axis": {"x": "independent", "y": "independent"}}}
  ]}
 ]}
]
}
